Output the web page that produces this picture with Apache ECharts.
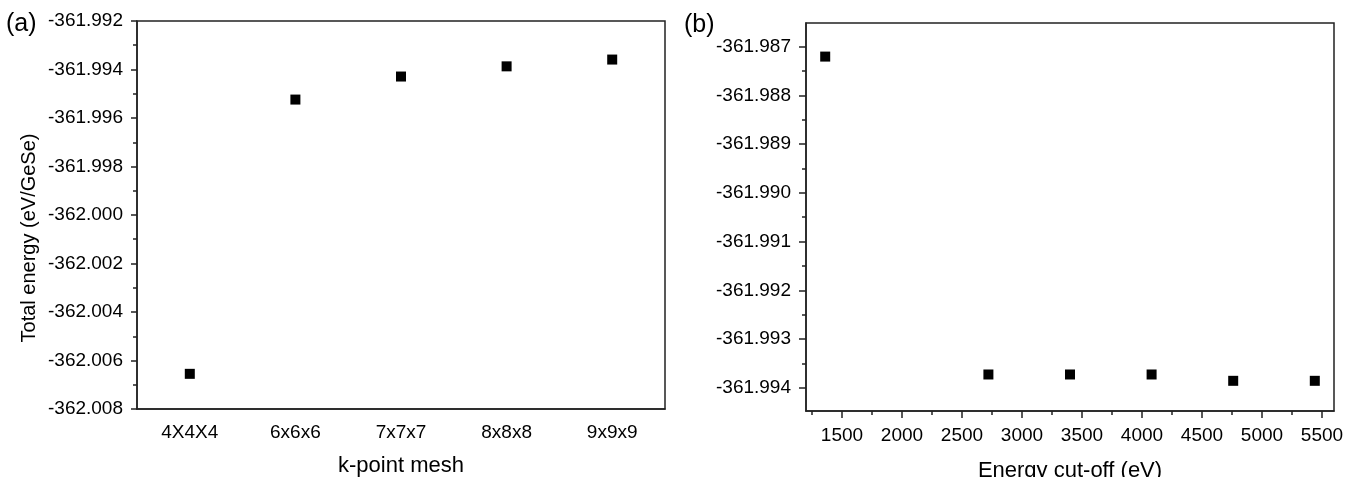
<!DOCTYPE html>
<html>
<head>
<meta charset="UTF-8">
<title>GeSe convergence</title>
<script src="https://cdn.jsdelivr.net/npm/echarts@6/dist/echarts.min.js"></script>
<style>
  html, body { margin: 0; padding: 0; background: #fff; }
  #main { width: 1345px; height: 477px; }
</style>
</head>
<body>
<div id="main"></div>
<script>
// (a) k-point convergence
var kMesh = ['4X4X4', '6x6x6', '7x7x7', '8x8x8', '9x9x9'];
var kEnergy = [-362.00655, -361.99524, -361.99429, -361.99387, -361.99359];
var kTicks = [-361.992, -361.994, -361.996, -361.998, -362.000, -362.002, -362.004, -362.006, -362.008];
var kMinor = [-361.993, -361.995, -361.997, -361.999, -362.001, -362.003, -362.005, -362.007];

// (b) cut-off convergence
var cutoff = [1360, 2720, 3400, 4080, 4760, 5440];
var cutEnergy = [-361.98720, -361.99373, -361.99373, -361.99373, -361.99386, -361.99386];
var cutTicks = [1500, 2000, 2500, 3000, 3500, 4000, 4500, 5000, 5500];
var cutMinor = [1250, 1750, 2250, 2750, 3250, 3750, 4250, 4750, 5250];
var eTicks = [-361.987, -361.988, -361.989, -361.990, -361.991, -361.992, -361.993, -361.994];
var eMinor = [-361.9865, -361.9875, -361.9885, -361.9895, -361.9905, -361.9915, -361.9925, -361.9935];

var font = 'Liberation Sans, Arial, sans-serif';
var lineCol = '#222';

function fmt3(v) { return Number(v).toFixed(3); }
function fmt0(v) { return String(v); }

var chart = echarts.init(document.getElementById('main'));

var labelStyle = { color: '#000', fontSize: 19, fontFamily: font };
var nameStyle = { color: '#000', fontSize: 22, fontFamily: font };

chart.setOption({
  animation: false,
  title: [
    { text: '(a)', left: 6, top: 12, padding: 0,
      textStyle: { fontSize: 25, fontWeight: 'normal', color: '#000', fontFamily: font } },
    { text: '(b)', left: 684, top: 13, padding: 0,
      textStyle: { fontSize: 25, fontWeight: 'normal', color: '#000', fontFamily: font } }
  ],
  grid: [
    { left: 137, top: 21, width: 528, height: 388, show: true, borderColor: lineCol, borderWidth: 1.5,
      outerBoundsMode: 'none', containLabel: false },
    { left: 806, top: 23, width: 528, height: 388, show: true, borderColor: lineCol, borderWidth: 1.5,
      outerBoundsMode: 'none', containLabel: false }
  ],
  xAxis: [
    {
      gridIndex: 0, type: 'category', data: kMesh, position: 'bottom',
      boundaryGap: true,
      axisLine: { lineStyle: { color: lineCol, width: 1.5 } },
      axisTick: { alignWithLabel: true, length: 6, lineStyle: { color: lineCol, width: 1.5 } },
      axisLabel: Object.assign({ margin: 14 }, labelStyle),
      splitLine: { show: false },
      name: 'k-point mesh', nameLocation: 'middle', nameGap: 46, nameTextStyle: nameStyle
    },
    {
      gridIndex: 1, type: 'value', min: 1200, max: 5600, position: 'bottom',
      axisLine: { lineStyle: { color: lineCol, width: 1.5 } },
      axisTick: { customValues: cutTicks, length: 7, lineStyle: { color: lineCol, width: 1.5 } },
      axisLabel: Object.assign({ customValues: cutTicks, margin: 15, formatter: fmt0 }, labelStyle),
      splitLine: { show: false },
      name: 'Energy cut-off (eV)', nameLocation: 'middle', nameGap: 49, nameTextStyle: nameStyle
    },
    {
      gridIndex: 1, type: 'value', min: 1200, max: 5600, position: 'bottom',
      axisLine: { show: false },
      axisTick: { customValues: cutMinor, length: 4, lineStyle: { color: lineCol, width: 1.5 } },
      axisLabel: { show: false },
      splitLine: { show: false }
    }
  ],
  yAxis: [
    {
      gridIndex: 0, type: 'value', min: -362.008, max: -361.992, position: 'left',
      axisLine: { show: true, lineStyle: { color: lineCol, width: 1.5 } },
      axisTick: { show: true, customValues: kTicks, length: 6, lineStyle: { color: lineCol, width: 1.5 } },
      axisLabel: Object.assign({ customValues: kTicks, margin: 14, formatter: fmt3 }, labelStyle),
      splitLine: { show: false },
      name: 'Total energy (eV/GeSe)', nameLocation: 'middle', nameGap: 98,
      nameTextStyle: { color: '#000', fontSize: 20, fontFamily: font, padding: [0, 46, 0, 0] }
    },
    {
      gridIndex: 0, type: 'value', min: -362.008, max: -361.992, position: 'left',
      axisLine: { show: false },
      axisTick: { show: true, customValues: kMinor, length: 4, lineStyle: { color: lineCol, width: 1.5 } },
      axisLabel: { show: false },
      splitLine: { show: false }
    },
    {
      gridIndex: 1, type: 'value', min: -361.99448, max: -361.98651, position: 'left',
      axisLine: { show: true, lineStyle: { color: lineCol, width: 1.5 } },
      axisTick: { show: true, customValues: eTicks, length: 7, lineStyle: { color: lineCol, width: 1.5 } },
      axisLabel: Object.assign({ customValues: eTicks, margin: 15, formatter: fmt3 }, labelStyle),
      splitLine: { show: false }
    },
    {
      gridIndex: 1, type: 'value', min: -361.99448, max: -361.98651, position: 'left',
      axisLine: { show: false },
      axisTick: { show: true, customValues: eMinor, length: 4, lineStyle: { color: lineCol, width: 1.5 } },
      axisLabel: { show: false },
      splitLine: { show: false }
    }
  ],
  series: [
    {
      type: 'scatter', xAxisIndex: 0, yAxisIndex: 0,
      symbol: 'rect', symbolSize: 10,
      itemStyle: { color: '#000', opacity: 1 },
      data: kMesh.map(function (c, i) { return [c, kEnergy[i]]; })
    },
    {
      type: 'scatter', xAxisIndex: 1, yAxisIndex: 2,
      symbol: 'rect', symbolSize: 10,
      itemStyle: { color: '#000', opacity: 1 },
      data: cutoff.map(function (c, i) { return [c, cutEnergy[i]]; })
    }
  ]
});
</script>
</body>
</html>
